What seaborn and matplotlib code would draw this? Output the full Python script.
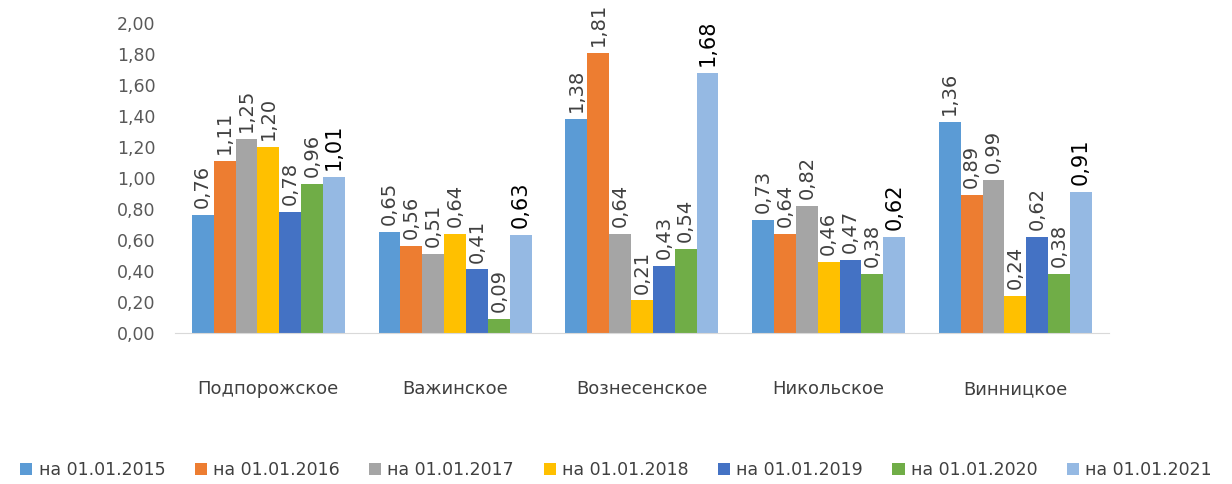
import pandas as pd
import matplotlib.pyplot as plt
import seaborn as sns

# settlements and yearly values
settlements = ["Подпорожское", "Важинское", "Вознесенское", "Никольское", "Винницкое"]
years = ["на 01.01.2015", "на 01.01.2016", "на 01.01.2017", "на 01.01.2018",
         "на 01.01.2019", "на 01.01.2020", "на 01.01.2021"]
v2015 = [0.76, 0.65, 1.38, 0.73, 1.36]
v2016 = [1.11, 0.56, 1.81, 0.64, 0.89]
v2017 = [1.25, 0.51, 0.64, 0.82, 0.99]
v2018 = [1.20, 0.64, 0.21, 0.46, 0.24]
v2019 = [0.78, 0.41, 0.43, 0.47, 0.62]
v2020 = [0.96, 0.09, 0.54, 0.38, 0.38]
v2021 = [1.01, 0.63, 1.68, 0.62, 0.91]
colors = ["#5B9BD5", "#ED7D31", "#A5A5A5", "#FFC000", "#4472C4", "#70AD47", "#95B9E3"]

series = [v2015, v2016, v2017, v2018, v2019, v2020, v2021]
rows = []
for year, vals in zip(years, series):
    for s, v in zip(settlements, vals):
        rows.append({"Поселение": s, "Год": year, "Значение": v})
df = pd.DataFrame(rows)

sns.set_style("white")
plt.rcParams['font.family'] = ['DejaVu Sans']

fig = plt.figure(figsize=(12.32, 4.84), dpi=100)
ax = fig.add_axes([0.142, 0.312, 0.758, 0.64])

sns.barplot(data=df, x="Поселение", y="Значение", hue="Год", palette=colors,
            width=0.82, saturation=1, ax=ax, edgecolor="none")

for i, cont in enumerate(ax.containers):
    labels = [f"{v:.2f}".replace(".", ",") for v in cont.datavalues]
    if i == len(ax.containers) - 1:
        ax.bar_label(cont, labels=labels, rotation=90, padding=5,
                     fontsize=15, color="black")
    else:
        ax.bar_label(cont, labels=labels, rotation=90, padding=5,
                     fontsize=14, color="#404040")

ax.set_ylim(0, 2.0)
ax.set_yticks([i * 0.2 for i in range(11)])
ax.set_yticklabels([f"{i * 0.2:.2f}".replace(".", ",") for i in range(11)],
                   fontsize=12.5, color="#595959")
ax.tick_params(axis="x", length=0, pad=34, labelsize=13, labelcolor="#404040")
ax.tick_params(axis="y", length=0, pad=14)
ax.set_xlabel("")
ax.set_ylabel("")
for side in ["top", "right", "left"]:
    ax.spines[side].set_visible(False)
ax.spines["bottom"].set_color("#D9D9D9")

handles, lbls = ax.get_legend_handles_labels()
ax.get_legend().remove()
fig.legend(handles, lbls, loc="center", bbox_to_anchor=(0.5, 0.028),
           ncol=7, frameon=False, fontsize=12.5, handlelength=0.7, handleheight=0.7,
           handletextpad=0.35, columnspacing=1.7, labelcolor="#404040")

plt.savefig("out.png", dpi=100)
